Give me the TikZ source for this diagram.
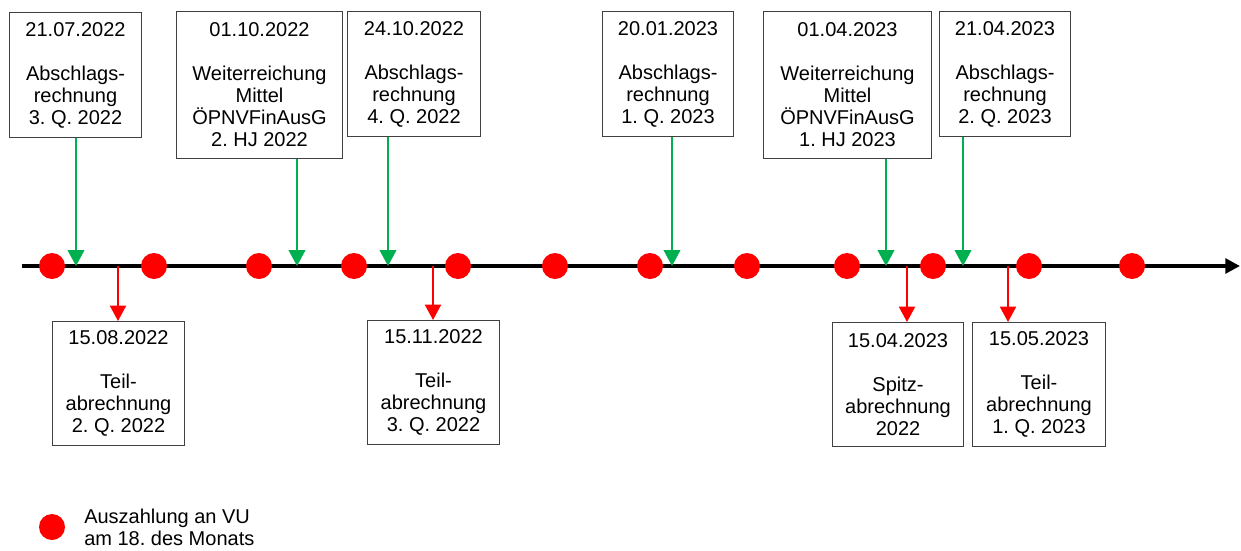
\documentclass[tikz,border=0pt]{standalone}
\usepackage{fontspec}
\setmainfont{Liberation Sans}
\usepackage{tikz}
\usetikzlibrary{arrows.meta}
\definecolor{vgruen}{RGB}{0,176,80}
\frenchspacing

\begin{document}
\begin{tikzpicture}[x=0.75pt, y=-0.75pt,
    box/.style={draw=black!75, line width=0.75pt, align=center, anchor=north west,
        font=\fontsize{15}{16.5}\selectfont, inner sep=0pt},
    zahltag/.style={circle, fill=red, minimum size=19.5pt, inner sep=0pt},
    gruenpfeil/.style={vgruen, line width=1.5pt, -{Triangle[length=12pt,width=12.5pt]}},
    rotpfeil/.style={red, line width=1.5pt, -{Triangle[length=11.5pt,width=12pt]}}]
    \useasboundingbox (0,0) rectangle (1241,550);

    % Zeitstrahl
    \coordinate (start) at (22,266);
    \coordinate (ende) at (1240,266);
    \draw[line width=3pt, -{Triangle[length=11pt,width=11pt]}] (start) -- (ende);

    % Termine oben
    \node[box, minimum width=99pt, minimum height=94pt] (a1) at (9,12)
        {21.07.2022\\[16.5pt]Abschlags-\\rechnung\\3. Q. 2022};
    \node[box, minimum width=124.5pt, minimum height=110pt] (a2) at (176,11)
        {01.10.2022\\[16.5pt]Weiterreichung\\Mittel\\ÖPNVFinAusG\\2. HJ 2022};
    \node[box, minimum width=99.75pt, minimum height=94pt] (a3) at (347,11)
        {24.10.2022\\[16.5pt]Abschlags-\\rechnung\\4. Q. 2022};
    \node[box, minimum width=98.25pt, minimum height=94pt] (a4) at (602,11)
        {20.01.2023\\[16.5pt]Abschlags-\\rechnung\\1. Q. 2023};
    \node[box, minimum width=126pt, minimum height=110pt] (a5) at (763,11)
        {01.04.2023\\[16.5pt]Weiterreichung\\Mittel\\ÖPNVFinAusG\\1. HJ 2023};
    \node[box, minimum width=98.25pt, minimum height=94pt] (a6) at (939,11)
        {21.04.2023\\[16.5pt]Abschlags-\\rechnung\\2. Q. 2023};

    % Termine unten
    \node[box, minimum width=99pt, minimum height=93pt] (b1) at (52,321)
        {15.08.2022\\[16.5pt]Teil-\\abrechnung\\2. Q. 2022};
    \node[box, minimum width=99pt, minimum height=93pt] (b2) at (367,320)
        {15.11.2022\\[16.5pt]Teil-\\abrechnung\\3. Q. 2022};
    \node[box, minimum width=98.25pt, minimum height=93pt] (b3) at (832,322)
        {15.04.2023\\[16.5pt]Spitz-\\abrechnung\\2022};
    \node[box, minimum width=99.75pt, minimum height=93pt] (b4) at (972,322)
        {15.05.2023\\[16.5pt]Teil-\\abrechnung\\1. Q. 2023};

    % Pfeile
    \coordinate (g1) at (76,266);
    \coordinate (g2) at (297,266);
    \coordinate (g3) at (388,266);
    \coordinate (g4) at (672,266);
    \coordinate (g5) at (886,266);
    \coordinate (g6) at (963,266);
    \foreach \i in {1,...,6}
        \draw[gruenpfeil] (a\i.south -| g\i) -- (g\i);

    \coordinate (r1) at (118,266);
    \coordinate (r2) at (433,266);
    \coordinate (r3) at (907,266);
    \coordinate (r4) at (1008,266);
    \foreach \i in {1,...,4}
        \draw[rotpfeil] (r\i) -- (r\i |- b\i.north);

    % Auszahlungen
    \foreach \x [count=\i] in {52,154,259,354,458,555,650,747,847,933,1029,1132}
        \node[zahltag] (d\i) at (\x,266) {};

    % Legende
    \node[zahltag] (leg) at (52,527) {};
    \node[anchor=west, align=left, inner sep=0pt, font=\fontsize{15}{16.5}\selectfont]
        (legtext) at (84,527) {Auszahlung an VU\\am 18. des Monats};
\end{tikzpicture}
\end{document}
